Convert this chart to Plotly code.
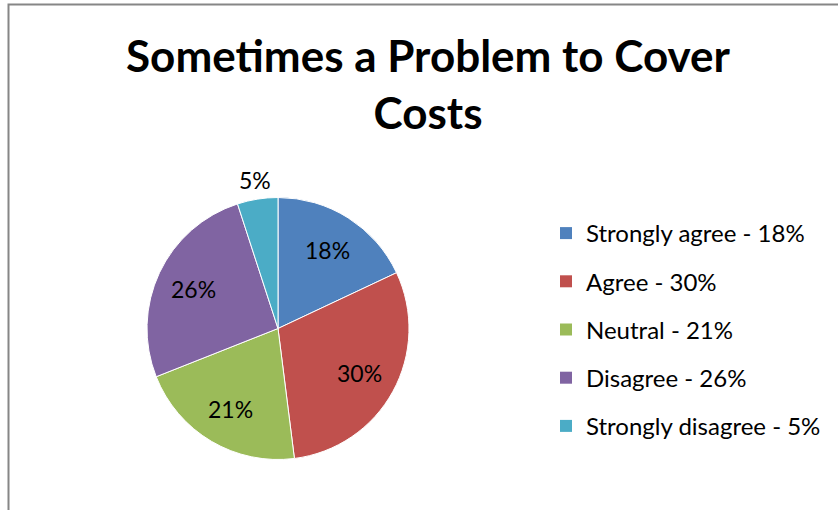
import math
import plotly.graph_objects as go

labels = ["Strongly agree", "Agree", "Neutral", "Disagree", "Strongly disagree"]
values = [18, 30, 21, 26, 5]
colors = ["#4F81BD", "#C0504D", "#9BBB59", "#8064A2", "#4BACC6"]
title_text = "Sometimes a Problem to Cover<br>Costs"

W, H = 838, 510
FONT = "Lato"

cx, cy, R = 278, 328.5, 131
dom_x = [(cx - R) / W, (cx + R) / W]
dom_y = [(H - cy - R) / H, (H - cy + R) / H]

fig = go.Figure()
fig.add_trace(go.Pie(
    labels=labels, values=values, sort=False, direction="clockwise", rotation=0,
    marker=dict(colors=colors, line=dict(color="white", width=1)),
    textinfo="none",
    domain=dict(x=dom_x, y=dom_y), showlegend=False, hoverinfo="label+percent",
))

# data labels placed from the slice angles (Excel best-fit style)
annotations = []
total = sum(values)
cum = 0
for v in values:
    mid = (cum + v / 2) / total * 2 * math.pi
    cum += v
    f = 0.71 if v >= 10 else 1.145
    px = cx + f * R * math.sin(mid)
    py = cy - f * R * math.cos(mid)
    annotations.append(dict(
        x=px / W, y=1 - py / H, xref="paper", yref="paper", text=f"{v}%",
        showarrow=False, xanchor="center", yanchor="middle",
        font=dict(family=FONT, size=23, color="black"),
    ))

for lab, v, c in zip(labels, values, colors):
    fig.add_trace(go.Scatter(
        x=[None], y=[None], mode="markers", name=f"{lab} - {v}%",
        marker=dict(symbol="square", size=12, color=c),
        legendgroup=lab, showlegend=True,
    ))

fig.update_layout(
    width=W, height=H,
    margin=dict(l=0, r=0, t=0, b=0),
    paper_bgcolor="white", plot_bgcolor="white",
    xaxis=dict(visible=False), yaxis=dict(visible=False),
    title=dict(text=title_text, x=428 / W, xanchor="center", y=1 - 72 / H, yanchor="top",
               yref="container", font=dict(family=FONT, size=44, color="black", weight="bold")),
    legend=dict(x=546 / W, xanchor="left", y=1 - 211 / H, yanchor="top",
                font=dict(family=FONT, size=24, color="black"),
                tracegroupgap=14, bgcolor="rgba(0,0,0,0)"),
    annotations=annotations,
    shapes=[dict(type="rect", xref="paper", yref="paper", x0=8.5 / W, x1=1.02,
                 y0=-0.02, y1=1 - 4.5 / H, line=dict(color="#868686", width=2))],
)

fig.write_html("out.html", config={"displayModeBar": False},
               post_script="document.body.style.margin='0';")
